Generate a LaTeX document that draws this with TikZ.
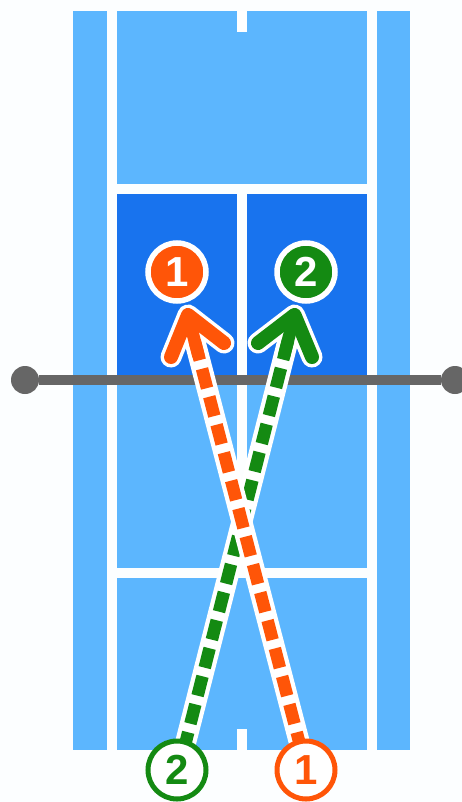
\documentclass[tikz,border=0pt]{standalone}
\usepackage{fontspec}
\setmainfont{Liberation Sans}
\definecolor{lightcourt}{HTML}{5CB6FE}
\definecolor{darkcourt}{HTML}{1873EE}
\definecolor{netgray}{HTML}{666666}
\definecolor{orangeP}{HTML}{FF5508}
\definecolor{greenP}{HTML}{148A12}
\definecolor{paper}{HTML}{FCFEFF}
\tikzset{
  court/.style={fill=lightcourt,draw=none},
  front/.style={fill=darkcourt,draw=none},
  tick/.style={fill=white,draw=none},
  post/.style={circle,fill=netgray,minimum size=28pt,inner sep=0pt},
  casing/.style={draw=white,line width=21pt,line cap=butt},
  dashline/.style={draw=#1,line width=12.5pt,dash pattern=on 20pt off 8.9pt,dash phase=6.9pt},
  solidline/.style={draw=#1,line width=12.5pt},
  headcase/.style={draw=white,line width=21pt,line cap=round,line join=round},
  headline/.style={draw=#1,line width=14pt,line cap=round,line join=round},
  filledp/.style={circle,fill=#1,draw=white,line width=5.5pt,minimum size=58pt,inner sep=0pt,text=white,font=\bfseries\fontsize{42}{42}\selectfont},
  openp/.style={circle,fill=white,draw=#1,line width=5pt,minimum size=58pt,inner sep=0pt,text=#1,font=\bfseries\fontsize{42}{42}\selectfont},
}
\begin{document}
\begin{tikzpicture}[x=1pt,y=-1pt]
\useasboundingbox (0,0) rectangle (462,802);
\clip (0,0) rectangle (462,802);
\fill[paper] (0,0) rectangle (462,802);
% alleys
\path[court] (73,11) rectangle (107,750);
\path[court] (377,11) rectangle (410,750);
% back court
\path[court] (117,11) rectangle (367,184);
\path[tick] (237,11) rectangle (247,32);
% service boxes
\path[front] (117,194) rectangle (237,380);
\path[front] (247,194) rectangle (367,380);
\path[court] (117,380) rectangle (237,568);
\path[court] (247,380) rectangle (367,568);
% near court
\path[court] (117,578) rectangle (367,750);
\path[tick] (237,729) rectangle (247,750);
% net
\node[post] (postL) at (25,380) {};
\node[post] (postR) at (455,380) {};
\draw[netgray,line width=10.5pt] (postL) -- (postR);
% positions
\coordinate (tipO) at (188,315);
\coordinate (tipG) at (294.5,315);
\coordinate (startO) at (300,745);
\coordinate (startG) at (185,745);
\coordinate (neckO) at (198.5,356);
\coordinate (neckG) at (284,356);
\coordinate (oa) at (171,357);
\coordinate (ob) at (224,343);
\coordinate (ga) at (258,343);
\coordinate (gb) at (312,357);
% green arrow
\draw[casing] (startG) -- (tipG);
\draw[headcase] (ga) -- (tipG) -- (gb);
\draw[dashline=greenP] (startG) -- (tipG);
\draw[solidline=greenP] (neckG) -- (tipG);
\draw[headline=greenP] (ga) -- (tipG) -- (gb);
% orange arrow
\draw[casing] (startO) -- (tipO);
\draw[headcase] (oa) -- (tipO) -- (ob);
\draw[dashline=orangeP] (startO) -- (tipO);
\draw[solidline=orangeP] (neckO) -- (tipO);
\draw[headline=orangeP] (oa) -- (tipO) -- (ob);
% players
\node[filledp=orangeP] (p1) at (177,272) {1};
\node[filledp=greenP] (p2) at (306,272) {2};
\node[openp=greenP] (q2) at (177,770) {2};
\node[openp=orangeP] (q1) at (306,770) {1};
\end{tikzpicture}
\end{document}
